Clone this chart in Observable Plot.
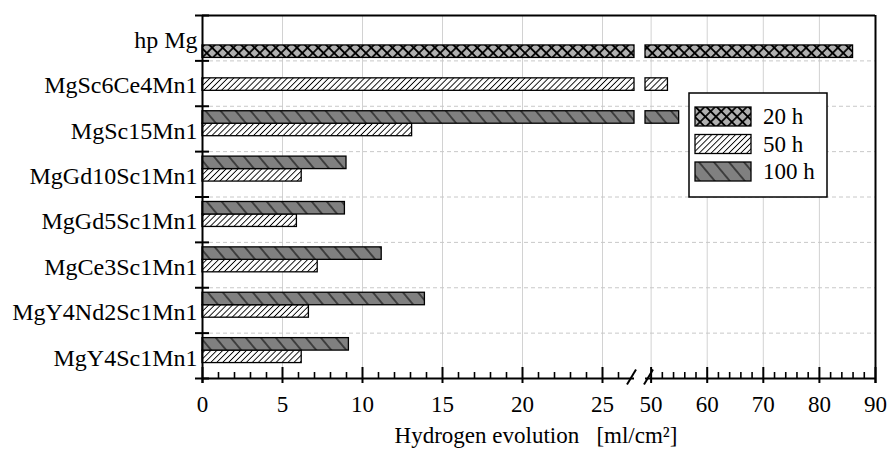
<!DOCTYPE html>
<html><head><meta charset="utf-8">
<script src="https://cdn.jsdelivr.net/npm/d3@7"></script>
<script src="https://cdn.jsdelivr.net/npm/@observablehq/plot@0.6"></script>
<style>html,body{margin:0;padding:0;background:#fff}</style>
</head><body><div id="chart"></div>
<script>
// ---- data ----
const categories = ["hp Mg", "MgSc6Ce4Mn1", "MgSc15Mn1", "MgGd10Sc1Mn1", "MgGd5Sc1Mn1", "MgCe3Sc1Mn1", "MgY4Nd2Sc1Mn1", "MgY4Sc1Mn1"];
const values20h  = [86,   null, null, null, null, null, null, null];
const values50h  = [null, 53,   13.1, 6.2,  5.9,  7.2,  6.65, 6.2];
const values100h = [null, null, 55,   9.0,  8.9,  11.2, 13.9, 9.15];
const seriesNames = ["20 h", "50 h", "100 h"];          // legend order
const slotOrder = ["100 h", "50 h", "20 h"];            // top-to-bottom inside a group
const majorTicks = [0, 5, 10, 15, 20, 25, 50, 60, 70, 80, 90];
const xTitle = "Hydrogen evolution\u00a0\u00a0 [ml/cm\u00b2]";
const breakLo = 27, breakHi = 49, xMax = 90;

// ---- layout ----
const width = 887, height = 456;
const marginLeft = 202, marginRight = 12, marginTop = 15, marginBottom = 78;
const gapUnits = 0.6875;        // visual width of the break, in left-section units
const rightScale = 0.3506;      // right section is compressed relative to the left
const brk = v => v <= breakLo ? v : breakLo + gapUnits + (v - breakHi) * rightScale;
const nCat = categories.length;
const slotTop = 0.11, slotH = 0.275;
const font = "'Liberation Serif', 'Times New Roman', serif";

const seriesValues = {"20 h": values20h, "50 h": values50h, "100 h": values100h};
const rows = [];
categories.forEach((c, i) => seriesNames.forEach(s => {
  const v = seriesValues[s][i];
  if (v != null) rows.push({category: c, index: i, series: s, value: v});
}));
const Y1 = d => d.index + slotTop + slotOrder.indexOf(d.series) * slotH;
const Y2 = d => Y1(d) + slotH;
const patternIds = {"20 h": "pat20", "50 h": "pat50", "100 h": "pat100"};
const patternUrls = seriesNames.map(s => `url(#${patternIds[s]})`);

const minorTicks = d3.range(1, breakLo).filter(v => v % 5 !== 0)
  .concat(d3.range(52, xMax, 2).filter(v => v % 10 !== 0));
const gridTicks = majorTicks.filter(v => v > 0 && v < xMax);

const slash = {draw(ctx) { ctx.moveTo(-4.5, 7.5); ctx.lineTo(4.5, -7.5); }};

const plot = Plot.plot({
  width, height, marginLeft, marginRight, marginTop, marginBottom,
  style: {fontFamily: font, fontSize: "23px", background: "white", color: "black"},
  x: {transform: brk, domain: [0, brk(xMax)], axis: null},
  y: {domain: [0, nCat], reverse: true, axis: null},
  color: {type: "ordinal", domain: seriesNames, range: patternUrls},
  marks: [
    Plot.ruleX(gridTicks, {x: d => d, stroke: "#d2d2d2", strokeWidth: 1}),
    Plot.ruleY(d3.range(1, nCat), {y: d => d, x1: 0, x2: xMax, stroke: "#c8c8c8", strokeWidth: 1, strokeDasharray: "4,3"}),
    // left segments of bars
    Plot.rect(rows, {x1: 0, x2: d => Math.min(d.value, breakLo), y1: Y1, y2: Y2, fill: "series", stroke: "black", strokeWidth: 1.3}),
    // right segments beyond the axis break
    Plot.rect(rows.filter(d => d.value > breakHi), {x1: breakHi, x2: "value", y1: Y1, y2: Y2, fill: "series", stroke: "black", strokeWidth: 1.3}),
    // frame
    Plot.ruleY([0], {y: d => d, x1: 0, x2: xMax, stroke: "black", strokeWidth: 2}),
    Plot.ruleX([0, xMax], {x: d => d, y1: 0, y2: nCat, insetBottom: -5, stroke: "black", strokeWidth: 2}),
    // x axis line with break
    Plot.ruleY([nCat], {y: d => d, x1: 0, x2: breakLo, stroke: "black", strokeWidth: 2}),
    Plot.ruleY([nCat], {y: d => d, x1: breakHi, x2: xMax, stroke: "black", strokeWidth: 2}),
    Plot.dot([breakLo], {x: d => d, y: nCat, symbol: slash, dx: -3, dy: -1.5, stroke: "black", strokeWidth: 2, fill: "none"}),
    Plot.dot([breakHi], {x: d => d, y: nCat, symbol: slash, dx: 3, dy: -1.5, stroke: "black", strokeWidth: 2, fill: "none"}),
    // y group ticks
    Plot.ruleY(d3.range(0, nCat + 1), {y: d => d, x1: 0, x2: 0, insetLeft: -7, insetRight: -7, stroke: "black", strokeWidth: 2}),
    // x ticks
    Plot.ruleX(majorTicks, {x: d => d, y1: nCat, y2: nCat, insetTop: -11, insetBottom: -5, stroke: "black", strokeWidth: 2}),
    Plot.ruleX(minorTicks, {x: d => d, y1: nCat, y2: nCat, insetTop: -6, insetBottom: 0, stroke: "black", strokeWidth: 1.6}),
    // labels
    Plot.text(majorTicks, {x: d => d, y: nCat, dy: 26, text: d => String(d), fill: "black", fontSize: 23}),
    Plot.text(categories, {x: 0, y: (d, i) => i + 0.5, dx: -5, dy: 2, text: d => d, textAnchor: "end", fill: "black", fontSize: 24}),
    Plot.text([xTitle], {frameAnchor: "bottom", lineAnchor: "middle", dx: -3, dy: 57, text: d => d, fill: "black", fontSize: 23})
  ]
});

// patterns
const svg = d3.select(plot);
const defs = svg.insert("defs", ":first-child");
const p20 = defs.append("pattern").attr("id", "pat20").attr("patternUnits", "userSpaceOnUse")
  .attr("width", 7.5).attr("height", 7.5).attr("patternTransform", "rotate(45)");
p20.append("rect").attr("width", 7.5).attr("height", 7.5).attr("fill", "#b0b0b0");
p20.append("path").attr("d", "M3.75,0V7.5M0,3.75H7.5").attr("stroke", "black").attr("stroke-width", 1.7);
const p50 = defs.append("pattern").attr("id", "pat50").attr("patternUnits", "userSpaceOnUse")
  .attr("width", 4.2).attr("height", 10).attr("patternTransform", "rotate(45)");
p50.append("rect").attr("width", 4.2).attr("height", 10).attr("fill", "white");
p50.append("path").attr("d", "M2.1,0V10").attr("stroke", "black").attr("stroke-width", 0.9);
const p100 = defs.append("pattern").attr("id", "pat100").attr("patternUnits", "userSpaceOnUse")
  .attr("width", 11.5).attr("height", 10).attr("patternTransform", "rotate(-40)");
p100.append("rect").attr("width", 11.5).attr("height", 10).attr("fill", "#808080");
p100.append("path").attr("d", "M5.75,0V10").attr("stroke", "black").attr("stroke-width", 1);

// legend (inside the plot area)
const lg = svg.append("g").attr("font-family", font).attr("font-size", 23).attr("text-anchor", "start");
lg.append("rect").attr("x", 689).attr("y", 93).attr("width", 138).attr("height", 104)
  .attr("fill", "white").attr("stroke", "black").attr("stroke-width", 1.5);
seriesNames.forEach((s, i) => {
  const y = 107 + i * 27.5;
  lg.append("rect").attr("x", 695).attr("y", y).attr("width", 56).attr("height", 19)
    .attr("fill", `url(#${patternIds[s]})`).attr("stroke", "black").attr("stroke-width", 1.3);
  lg.append("text").attr("x", 763).attr("y", y + 9.5).attr("dy", "0.33em").attr("fill", "black")
    .attr("text-anchor", "start").style("font-size", "23px").text(s);
});

document.getElementById("chart").appendChild(plot);
</script>
</body></html>
